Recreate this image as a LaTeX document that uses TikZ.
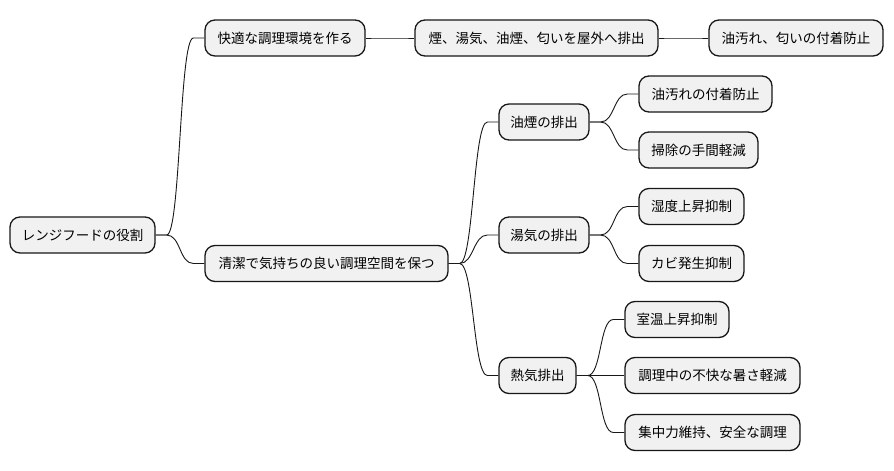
\documentclass[tikz,border=0pt]{standalone}
\usepackage{fontspec}
\setmainfont{Noto Sans CJK JP}
\definecolor{boxfill}{HTML}{F1F1F1}
\definecolor{boxline}{HTML}{181818}
\begin{document}
\begin{tikzpicture}[x=1pt,y=-1pt,
  mm/.style={draw=boxline,fill=boxfill,line width=1.3pt,rounded corners=10pt,
    minimum height=36pt,inner sep=0pt,font=\fontsize{13.5pt}{16pt}\selectfont,text=black},
  link/.style={draw=boxline,line width=0.9pt}]
\useasboundingbox (0,0) rectangle (894,471);
\fill[white] (0,0) rectangle (894,471);
\node[mm,minimum width=145pt] (root) at (82.5,235) {レンジフードの役割};
\node[mm,minimum width=160pt] (a1) at (285,38) {快適な調理環境を作る};
\node[mm,minimum width=243pt] (a1a) at (536.5,38) {煙、湯気、油煙、匂いを屋外へ排出};
\node[mm,minimum width=174pt] (a1b) at (796,38) {油汚れ、匂いの付着防止};
\node[mm,minimum width=243pt] (a2) at (326.5,263.5) {清潔で気持ちの良い調理空間を保つ};
\node[mm,minimum width=90pt] (b1) at (544,122) {油煙の排出};
\node[mm,minimum width=90pt] (b2) at (544,235) {湯気の排出};
\node[mm,minimum width=77pt] (b3) at (537.5,375.5) {熱気排出};
\node[mm,minimum width=133pt] (c1) at (705.5,94) {油汚れの付着防止};
\node[mm,minimum width=119pt] (c2) at (698.5,150) {掃除の手間軽減};
\node[mm,minimum width=105pt] (c3) at (691.5,206.5) {湿度上昇抑制};
\node[mm,minimum width=105pt] (c4) at (691.5,263.5) {カビ発生抑制};
\node[mm,minimum width=104pt] (d1) at (677,319.5) {室温上昇抑制};
\node[mm,minimum width=175pt] (d2) at (712.5,375.5) {調理中の不快な暑さ軽減};
\node[mm,minimum width=175pt] (d3) at (712.5,432.5) {集中力維持、安全な調理};
\foreach \p/\c in {root/a1,root/a2,a1/a1a,a1a/a1b,a2/b1,a2/b2,a2/b3,b1/c1,b1/c2,b2/c3,b2/c4,b3/d1,b3/d2,b3/d3}{
  \draw[link] (\p.east) -- ([xshift=11pt]\p.east)
    .. controls ([xshift=25pt]\p.east) and ([xshift=-25pt]\c.west)
    .. ([xshift=-11pt]\c.west) -- (\c.west);
}
\end{tikzpicture}
\end{document}
